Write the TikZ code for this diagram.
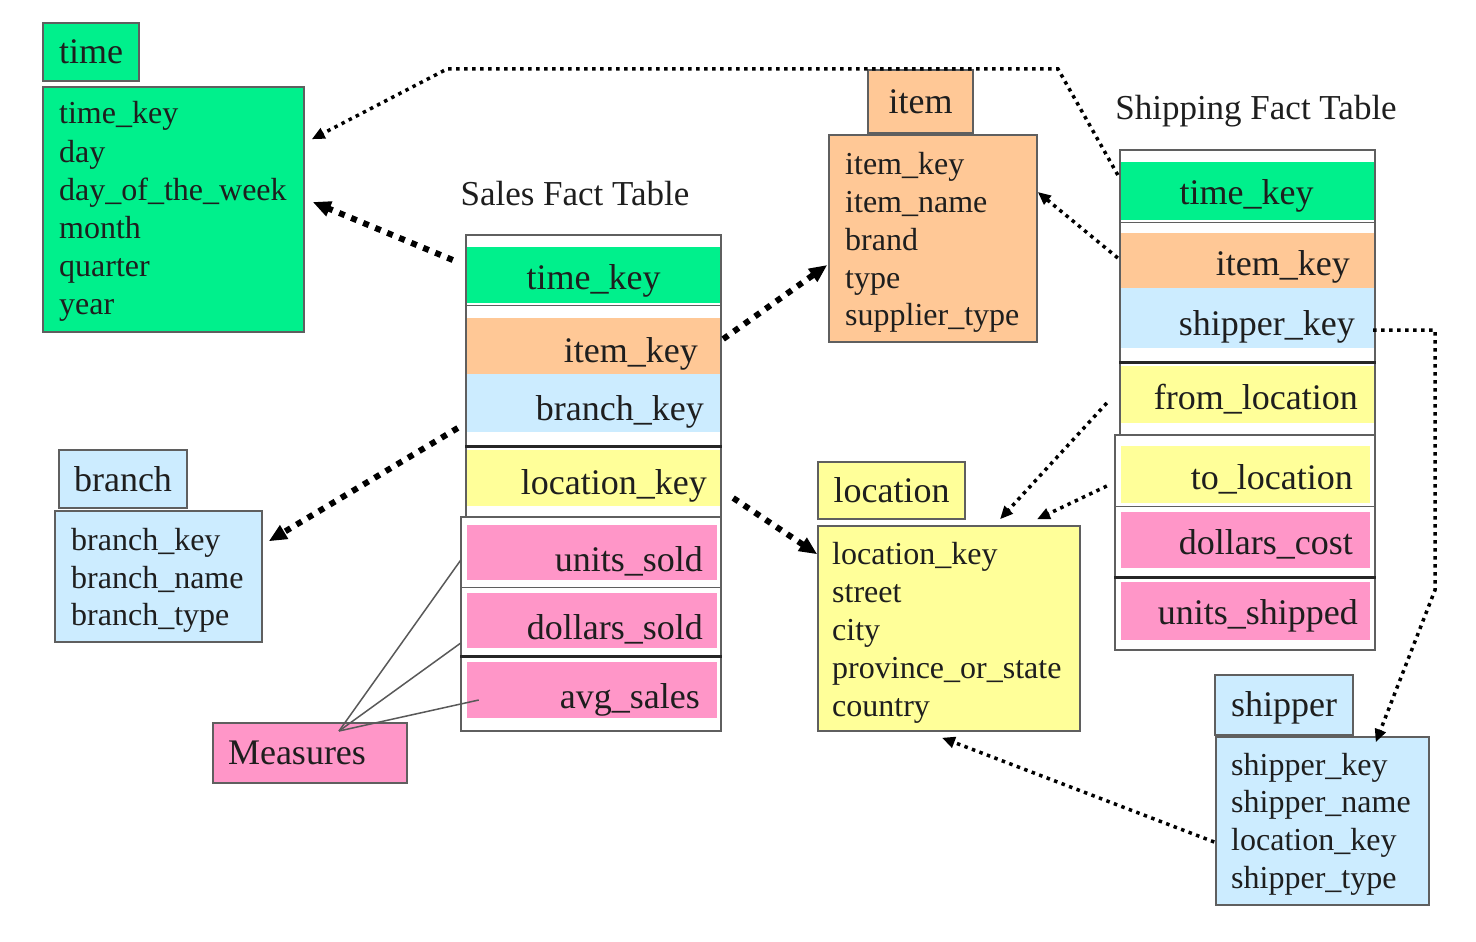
\documentclass[tikz,border=0pt]{standalone}
\usepackage{fontspec}
\setmainfont{Liberation Serif}
\usetikzlibrary{arrows.meta,calc}
\definecolor{cgreen}{RGB}{0,240,140}
\definecolor{corange}{RGB}{255,200,150}
\definecolor{cblue}{RGB}{204,236,255}
\definecolor{cyellow}{RGB}{255,255,153}
\definecolor{cpink}{RGB}{255,150,200}
\definecolor{bordc}{RGB}{95,95,95}
\definecolor{txtc}{RGB}{30,30,30}
\newcommand\myfs[1]{\fontsize{#1}{#1}\selectfont}
\tikzset{
  hdr/.style={draw=bordc, line width=1.5pt, inner sep=0pt, font=\myfs{36}, text=txtc},
  lstbox/.style={draw=bordc, line width=1.5pt, inner sep=0pt},
  rowbox/.style={inner sep=0pt, draw=none},
  ltxt/.style={anchor=west, inner sep=0pt, font=\myfs{32}, text=txtc, text height=22pt, text depth=8pt},
  ftxt/.style={inner sep=0pt, font=\myfs{36}, text=txtc, text height=25pt, text depth=9pt},
  sep/.style={draw=bordc, line width=1.5pt},
  sepdark/.style={draw=black!85, line width=2.5pt},
  thickdot/.style={line width=6pt, dash pattern=on 6pt off 7pt, -{Triangle[length=18pt,width=15pt]}},
  thindot/.style={line width=3.5pt, dash pattern=on 3.5pt off 4.5pt, -{Triangle[length=13pt,width=11pt]}},
  measline/.style={draw=black!65, line width=1.5pt},
}
\begin{document}
\begin{tikzpicture}[x=1pt,y=-1pt]
\useasboundingbox (0,0) rectangle (1476,942);
\fill[white] (0,0) rectangle (1476,942);

% ---------- time dimension ----------
\node[hdr, fill=cgreen, minimum width=96pt, minimum height=58pt] (timeh) at (91,52) {time};
\node[lstbox, fill=cgreen, minimum width=261pt, minimum height=245pt] (timelist) at (173.5,209.5) {};
\node[ltxt] (t1) at (59,117) {time\_key};
\node[ltxt] (t2) at (59,155) {day};
\node[ltxt] (t3) at (59,193) {day\_of\_the\_week};
\node[ltxt] (t4) at (59,231) {month};
\node[ltxt] (t5) at (59,269) {quarter};
\node[ltxt] (t6) at (59,307) {year};

% ---------- item dimension ----------
\node[hdr, fill=corange, minimum width=105pt, minimum height=63pt] (itemh) at (920.5,101.5) {item};
\node[lstbox, fill=corange, minimum width=208pt, minimum height=207pt] (itemlist) at (933,238.5) {};
\node[ltxt] (i1) at (845,167) {item\_key};
\node[ltxt] (i2) at (845,205) {item\_name};
\node[ltxt] (i3) at (845,243) {brand};
\node[ltxt] (i4) at (845,281) {type};
\node[ltxt] (i5) at (845,318) {supplier\_type};

% ---------- branch dimension ----------
\node[hdr, fill=cblue, minimum width=128pt, minimum height=58pt] (branchh) at (123,479) {branch};
\node[lstbox, fill=cblue, minimum width=207pt, minimum height=131pt] (branchlist) at (158.5,576.5) {};
\node[ltxt] (b1) at (71,543) {branch\_key};
\node[ltxt] (b2) at (71,581) {branch\_name};
\node[ltxt] (b3) at (71,618) {branch\_type};

% ---------- location dimension ----------
\node[hdr, fill=cyellow, minimum width=147pt, minimum height=57pt] (loch) at (891.5,490.5) {location};
\node[lstbox, fill=cyellow, minimum width=262pt, minimum height=205pt] (loclist) at (949,628.5) {};
\node[ltxt] (l1) at (832,557) {location\_key};
\node[ltxt] (l2) at (832,595) {street};
\node[ltxt] (l3) at (832,633) {city};
\node[ltxt] (l4) at (832,671) {province\_or\_state};
\node[ltxt] (l5) at (832,709) {country};

% ---------- shipper dimension ----------
\node[hdr, fill=cblue, minimum width=138pt, minimum height=60pt] (shiph) at (1284,705) {};
\node[ftxt] (shiphtxt) at (1284,708) {shipper};
\node[lstbox, fill=cblue, minimum width=213pt, minimum height=168pt] (shiplist) at (1322.5,821) {};
\node[ltxt] (p1) at (1231,768) {shipper\_key};
\node[ltxt] (p2) at (1231,805) {shipper\_name};
\node[ltxt] (p3) at (1231,843) {location\_key};
\node[ltxt] (p4) at (1231,881) {shipper\_type};

% ---------- Measures ----------
\node[hdr, fill=cpink, minimum width=194pt, minimum height=60pt] (meas) at (310,753) {};
\node[ftxt] (meastxt) at (297,756) {Measures};

% ---------- Sales Fact Table ----------
\node[ftxt, font=\myfs{35}] (salestitle) at (575,197) {Sales Fact Table};
\node[lstbox, fill=white, minimum width=255pt, minimum height=282pt] (supper) at (593.5,376) {};
\node[lstbox, fill=white, minimum width=260pt, minimum height=214pt] (slower) at (591,624) {};
\node[rowbox, fill=cgreen,  minimum width=253pt, minimum height=56pt] (s1) at (593.5,275) {};
\node[rowbox, fill=corange, minimum width=253pt, minimum height=56pt] (s2) at (593.5,346) {};
\node[rowbox, fill=cblue,   minimum width=253pt, minimum height=58pt] (s3) at (593.5,403) {};
\node[rowbox, fill=cyellow, minimum width=253pt, minimum height=56pt] (s4) at (593.5,478) {};
\node[rowbox, fill=cpink,   minimum width=250pt, minimum height=55pt] (s5) at (592,552.5) {};
\node[rowbox, fill=cpink,   minimum width=250pt, minimum height=55pt] (s6) at (592,620.5) {};
\node[rowbox, fill=cpink,   minimum width=250pt, minimum height=56pt] (s7) at (592,690) {};
\draw[sep] ($(supper.north west)+(0,71)$) -- ($(supper.north east)+(0,71)$);
\draw[sepdark] ($(supper.north west)+(0,212)$) -- ($(supper.north east)+(0,212)$);
\draw[sep] ($(slower.north west)+(0,71)$) -- ($(slower.north east)+(0,71)$);
\draw[sepdark] ($(slower.north west)+(0,140)$) -- ($(slower.north east)+(0,140)$);
\node[ftxt] (s1t) at (593.5,281) {time\_key};
\node[ftxt, anchor=east] (s2t) at (698,354) {item\_key};
\node[ftxt, anchor=east] (s3t) at (704,412) {branch\_key};
\node[ftxt, anchor=east] (s4t) at (707,486) {location\_key};
\node[ftxt, anchor=east] (s5t) at (703,563) {units\_sold};
\node[ftxt, anchor=east] (s6t) at (703,631) {dollars\_sold};
\node[ftxt, anchor=east] (s7t) at (700,700) {avg\_sales};

% ---------- Shipping Fact Table ----------
\node[ftxt, font=\myfs{35}] (shiptitle) at (1256,112) {Shipping Fact Table};
\node[lstbox, fill=white, minimum width=255pt, minimum height=285pt] (hupper) at (1247.5,292.5) {};
\node[lstbox, fill=white, minimum width=260pt, minimum height=215pt] (hlower) at (1245,542.5) {};
\node[rowbox, fill=cgreen,  minimum width=253pt, minimum height=58pt] (h1) at (1247.5,191) {};
\node[rowbox, fill=corange, minimum width=253pt, minimum height=55pt] (h2) at (1247.5,260.5) {};
\node[rowbox, fill=cblue,   minimum width=253pt, minimum height=60pt] (h3) at (1247.5,318) {};
\node[rowbox, fill=cyellow, minimum width=253pt, minimum height=57pt] (h4) at (1247.5,394.5) {};
\node[rowbox, fill=cyellow, minimum width=249pt, minimum height=57pt] (h5) at (1245.5,474.5) {};
\node[rowbox, fill=cpink,   minimum width=249pt, minimum height=56pt] (h6) at (1245.5,540) {};
\node[rowbox, fill=cpink,   minimum width=249pt, minimum height=58pt] (h7) at (1245.5,611) {};
\draw[sep] ($(hupper.north west)+(0,73)$) -- ($(hupper.north east)+(0,73)$);
\draw[sepdark] ($(hupper.north west)+(0,213)$) -- ($(hupper.north east)+(0,213)$);
\draw[sep] ($(hlower.north west)+(0,72)$) -- ($(hlower.north east)+(0,72)$);
\draw[sepdark] ($(hlower.north west)+(0,143)$) -- ($(hlower.north east)+(0,143)$);
\node[ftxt] (h1t) at (1246.5,196) {time\_key};
\node[ftxt, anchor=east] (h2t) at (1350,267) {item\_key};
\node[ftxt, anchor=east] (h3t) at (1355,327) {shipper\_key};
\node[ftxt, anchor=east] (h4t) at (1358,401) {from\_location};
\node[ftxt, anchor=east] (h5t) at (1353,481) {to\_location};
\node[ftxt, anchor=east] (h6t) at (1353,546) {dollars\_cost};
\node[ftxt, anchor=east] (h7t) at (1358,616) {units\_shipped};

% ---------- Measures links ----------
\coordinate (mc) at (339,731);
\draw[measline] (mc) -- ($(s5.west)+(-6,7.5)$);
\draw[measline] (mc) -- ($(s6.west)+(-6,22.5)$);
\draw[measline] (mc) -- ($(s7.west)+(12,10)$);

% ---------- Sales connectors (thick dotted) ----------
\draw[thickdot] ($(s1.west)+(-14,-15)$) -- ($(timelist.east)+(8,-7.5)$);
\draw[thickdot] ($(s2.east)+(3,-7)$) -- ($(itemlist.west)+(-1,26.5)$);
\draw[thickdot] ($(s3.west)+(-9,25)$) -- ($(branchlist.north east)+(6,31)$);
\draw[thickdot] ($(s4.east)+(13,20)$) -- ($(loclist.north west)+(0,29)$);

% ---------- Shipping connectors (thin dotted) ----------
\coordinate (c1) at (1058,69);
\coordinate (c2) at (447,69);
\draw[thindot] ($(h1.west)+(-3,-16)$) -- (c1) -- (c2) -- ($(timelist.north east)+(7,53)$);
\draw[thindot] ($(h2.west)+(-3,-2.5)$) -- ($(itemlist.east)+(0,-46.5)$);
\coordinate (c3) at (1435,330);
\coordinate (c4) at (1435,590);
\draw[thindot] ($(h3.east)+(-1,12)$) -- (c3) -- (c4) -- ($(shiplist.north east)+(-54,6)$);
\draw[thindot] ($(h4.west)+(-14,8.5)$) -- ($(loclist.north)+(51,-6)$);
\draw[thindot] ($(h5.west)+(-14,11.5)$) -- ($(loclist.north)+(88,-6)$);
\draw[thindot] ($(shiplist.west)+(-1,21)$) -- ($(loclist.south)+(-7,6)$);
\end{tikzpicture}
\end{document}
